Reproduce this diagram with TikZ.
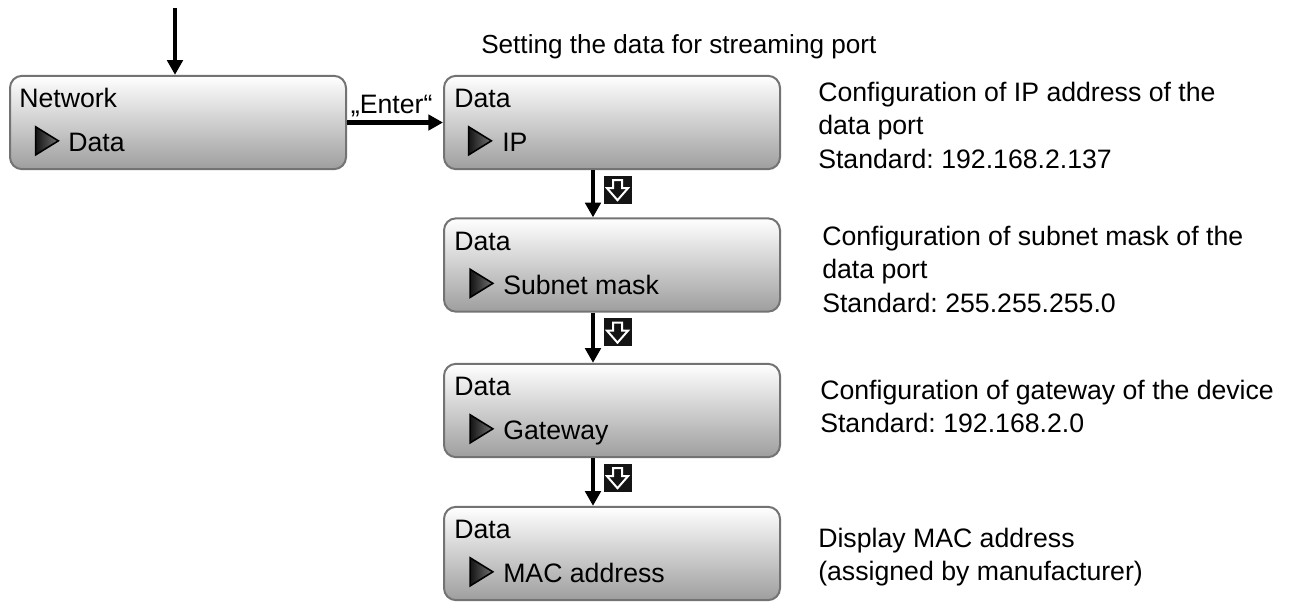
\documentclass[tikz,border=0pt]{standalone}
\usepackage{fontspec}
\setmainfont{Liberation Sans}
\frenchspacing
\usetikzlibrary{arrows.meta, shapes.geometric, positioning}

\tikzset{
    menu/.style={draw=black!55, line width=1.5pt, rounded corners=9pt, top color=white, bottom color=black!38, minimum width=252pt, minimum height=70pt, inner sep=0pt},
    head/.style={anchor=base west, inner sep=0pt},
    item/.style={anchor=base west, inner sep=0pt},
    pointer/.style={draw=black, line width=1.2pt, isosceles triangle, isosceles triangle stretches, minimum height=17pt, minimum width=21pt, inner sep=0pt, left color=black!92, right color=black!55},
    flow/.style={line width=3.5pt, -{Triangle[length=11pt,width=11.5pt]}},
    keycap/.style={fill=black!92, minimum size=21pt, inner sep=0pt},
    keyarrow/.style={draw=white, line width=1.5pt, line join=miter},
    note/.style={anchor=north west, align=left, inner sep=0pt}
}

\begin{document}
\begin{tikzpicture}[x=0.75pt, y=-0.75pt, font=\fontsize{20pt}{25pt}\selectfont]
    \useasboundingbox (0,0) rectangle (1293,601);
    % menu boxes
    \node[menu] (net) at (178,122.5) {};
    \node[menu] (ip) at (612,122.5) {};
    \node[menu] (sub) at (612,265) {};
    \node[menu] (gw) at (612,410.5) {};
    \node[menu] (mac) at (612,553.5) {};
    % box texts
    \node[head] (netT) at ([shift={(10,33)}]net.north west) {Network};
    \node[pointer] (netP) at ([shift={(34.5,66)}]net.north west) {};
    \node[item] (netI) at ([shift={(59,77)}]net.north west) {Data};
    \node[head] (ipT) at ([shift={(11,33)}]ip.north west) {Data};
    \node[pointer] (ipP) at ([shift={(33.5,66)}]ip.north west) {};
    \node[item] (ipI) at ([shift={(59,77)}]ip.north west) {IP};
    \node[head] (subT) at ([shift={(11,33)}]sub.north west) {Data};
    \node[pointer] (subP) at ([shift={(35,66)}]sub.north west) {};
    \node[item] (subI) at ([shift={(60,77)}]sub.north west) {Subnet mask};
    \node[head] (gwT) at ([shift={(11,33)}]gw.north west) {Data};
    \node[pointer] (gwP) at ([shift={(35,66)}]gw.north west) {};
    \node[item] (gwI) at ([shift={(60,77)}]gw.north west) {Gateway};
    \node[head] (macT) at ([shift={(11,33)}]mac.north west) {Data};
    \node[pointer] (macP) at ([shift={(35,66)}]mac.north west) {};
    \node[item] (macI) at ([shift={(60,77)}]mac.north west) {MAC address};
    % arrows
    \coordinate (start) at (175,8);
    \draw[flow] (start) -- (start |- net.north);
    \draw[flow] (net.east) -- node[above=2.5pt, xshift=-2.5pt, inner sep=0pt] (enter) {„Enter“} (ip.west);
    \draw[flow] ([shift={(-19,0)}]ip.south) -- ([shift={(-19,0)}]sub.north);
    \draw[flow] ([shift={(-19,0)}]sub.south) -- ([shift={(-19,0)}]gw.north);
    \draw[flow] ([shift={(-19,0)}]gw.south) -- ([shift={(-19,0)}]mac.north);
    % down keys
    \node[keycap] (k1) at ([shift={(5.5,19.5)}]ip.south) {};
    \node[keycap] (k2) at ([shift={(5.5,19.5)}]sub.south) {};
    \node[keycap] (k3) at ([shift={(5.5,19.5)}]gw.south) {};
    \draw[keyarrow, shift={(k1)}] (-4.5,-9.5) -- (4.5,-9.5) -- (4.5,-1.5) -- (10.5,-1.5) -- (0,10.5) -- (-10.5,-1.5) -- (-4.5,-1.5) -- cycle;
    \draw[keyarrow, shift={(k2)}] (-4.5,-9.5) -- (4.5,-9.5) -- (4.5,-1.5) -- (10.5,-1.5) -- (0,10.5) -- (-10.5,-1.5) -- (-4.5,-1.5) -- cycle;
    \draw[keyarrow, shift={(k3)}] (-4.5,-9.5) -- (4.5,-9.5) -- (4.5,-1.5) -- (10.5,-1.5) -- (0,10.5) -- (-10.5,-1.5) -- (-4.5,-1.5) -- cycle;
    % notes
    \node[note, font=\fontsize{19.6pt}{25pt}\selectfont] (title) at (481,34) {Setting the data for streaming port};
    \node[note] (ipN) at (818,82) {Configuration of IP address of the\\data port\\Standard: 192.168.2.137};
    \node[note] (subN) at (822,226) {Configuration of subnet mask of the\\data port\\Standard: 255.255.255.0};
    \node[note] (gwN) at (820,380) {Configuration of gateway of the device\\Standard: 192.168.2.0};
    \node[note] (macN) at (818,528) {Display MAC address\\(assigned by manufacturer)};
\end{tikzpicture}
\end{document}
